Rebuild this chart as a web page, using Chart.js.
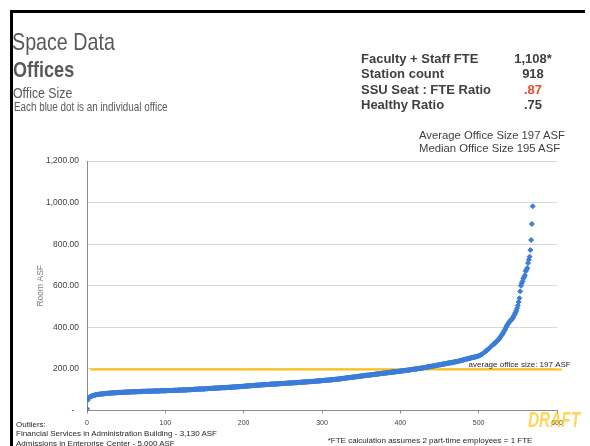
<!DOCTYPE html>
<html>
<head>
<meta charset="utf-8">
<title>Space Data – Offices</title>
<script src="https://cdn.jsdelivr.net/npm/chart.js@4.4.1/dist/chart.umd.min.js"></script>
<style>
  html, body { margin: 0; padding: 0; background: #fff; }
  .slide {
    position: relative; width: 590px; height: 446px; overflow: hidden;
    font-family: "Liberation Sans", Arial, sans-serif; color: #404040;
  }
  .slide canvas { position: absolute; left: 0; top: 0; }
  .frame-top { position: absolute; left: 10px; top: 10px; width: 575px; height: 3px; background: #000; }
  .frame-left { position: absolute; left: 10px; top: 10px; width: 3px; height: 440px; background: #000; }
  .txt { position: absolute; white-space: nowrap; line-height: 1; }
  /* condensed heading face: regular sans squeezed horizontally */
  .narrow { color: #595959; transform: scaleX(0.82); transform-origin: 0 0; }
  .stat { font-weight: bold; font-size: 13px; }
  .stat-val { width: 60px; text-align: center; }
  .note { font-size: 8px; color: #262626; }
  .draft {
    font-size: 22px; font-weight: bold; font-style: italic;
    color: rgba(255, 192, 0, 0.65);
    transform: scaleX(0.7); transform-origin: 0 0;
  }
</style>
</head>
<body>
<div class="slide">
  <canvas id="officeChart" width="590" height="446"></canvas>

  <div class="frame-top"></div>
  <div class="frame-left"></div>

  <div class="txt narrow" style="left:12px; top:30.4px; font-size:24px;">Space Data</div>
  <div class="txt narrow" style="left:13px; top:59.4px; font-size:22px; font-weight:bold;">Offices</div>
  <div class="txt narrow" style="left:13px; top:85.3px; font-size:15px;">Office Size</div>
  <div class="txt narrow" style="left:13.5px; top:101.3px; font-size:12px;">Each blue dot is an individual office</div>

  <div class="txt stat" style="left:361px; top:51.6px;">Faculty + Staff FTE</div>
  <div class="txt stat" style="left:361px; top:66.6px;">Station count</div>
  <div class="txt stat" style="left:361px; top:83px;">SSU Seat : FTE Ratio</div>
  <div class="txt stat" style="left:361px; top:98.3px;">Healthy Ratio</div>
  <div class="txt stat stat-val" style="left:503px; top:51.6px;">1,108*</div>
  <div class="txt stat stat-val" style="left:503px; top:66.6px;">918</div>
  <div class="txt stat stat-val" style="left:503px; top:83px; color:#ee4b2b;">.87</div>
  <div class="txt stat stat-val" style="left:503px; top:98.3px;">.75</div>

  <div class="txt" style="left:419px; top:130.4px; font-size:11.3px;">Average Office Size 197 ASF</div>
  <div class="txt" style="left:419px; top:143.1px; font-size:11.3px;">Median Office Size 195 ASF</div>

  <div class="txt note" style="left:16px; top:421.2px;">Outliers:</div>
  <div class="txt note" style="left:16px; top:430.2px;">Financial Services in Administration Building - 3,130 ASF</div>
  <div class="txt note" style="left:16px; top:439.5px;">Admissions in Enterprise Center - 5,000 ASF</div>
  <div class="txt note" style="left:327.7px; top:436.5px;">*FTE calculation assumes 2 part-time employees = 1 FTE</div>

  <div class="txt draft" style="left:528px; top:409.4px;">DRAFT</div>
</div>

<script>
// Room ASF for every office, sorted smallest to largest (x = rank)
const officeSizes = [
  8, 50, 60, 63, 66, 68, 69, 70, 72, 73,
  74, 75, 76, 77, 77, 78, 78, 79, 79, 80,
  80, 80, 81, 81, 82, 82, 82, 83, 83, 83,
  84, 84, 84, 85, 85, 85, 85, 86, 86, 86,
  86, 87, 87, 87, 87, 87, 88, 88, 88, 88,
  88, 89, 89, 89, 89, 89, 89, 90, 90, 90,
  90, 90, 90, 90, 91, 91, 91, 91, 91, 91,
  92, 92, 92, 92, 92, 92, 92, 93, 93, 93,
  93, 93, 93, 93, 93, 94, 94, 94, 94, 94,
  94, 94, 94, 94, 95, 95, 95, 95, 95, 95,
  95, 95, 96, 96, 96, 96, 96, 96, 96, 96,
  97, 97, 97, 97, 97, 97, 97, 98, 98, 98,
  98, 98, 98, 99, 99, 99, 99, 99, 100, 100,
  100, 100, 100, 101, 101, 101, 101, 102, 102, 102,
  102, 102, 103, 103, 103, 103, 104, 104, 104, 104,
  104, 105, 105, 105, 105, 106, 106, 106, 106, 106,
  107, 107, 107, 107, 108, 108, 108, 108, 108, 109,
  109, 109, 109, 110, 110, 110, 110, 110, 111, 111,
  111, 111, 112, 112, 112, 112, 113, 113, 113, 113,
  114, 114, 114, 114, 115, 115, 115, 115, 116, 116,
  116, 117, 117, 117, 118, 118, 118, 119, 119, 119,
  120, 120, 120, 120, 121, 121, 121, 122, 122, 122,
  122, 123, 123, 123, 124, 124, 124, 124, 125, 125,
  125, 125, 126, 126, 126, 126, 127, 127, 127, 127,
  128, 128, 128, 128, 129, 129, 129, 129, 130, 130,
  130, 130, 130, 131, 131, 131, 131, 132, 132, 132,
  132, 133, 133, 133, 133, 134, 134, 134, 134, 135,
  135, 135, 135, 136, 136, 136, 137, 137, 137, 137,
  138, 138, 138, 138, 139, 139, 139, 140, 140, 140,
  140, 141, 141, 141, 142, 142, 142, 143, 143, 143,
  144, 144, 144, 145, 145, 145, 146, 146, 146, 147,
  147, 147, 148, 148, 148, 149, 149, 150, 150, 150,
  151, 151, 152, 152, 153, 153, 154, 154, 155, 155,
  156, 156, 157, 157, 158, 158, 159, 159, 160, 160,
  161, 161, 162, 162, 163, 163, 164, 164, 165, 165,
  166, 166, 167, 167, 168, 168, 169, 169, 170, 170,
  170, 171, 171, 172, 172, 173, 173, 174, 174, 175,
  175, 176, 176, 177, 177, 178, 178, 179, 179, 180,
  180, 180, 181, 181, 182, 182, 183, 183, 184, 184,
  185, 185, 185, 186, 186, 187, 187, 188, 188, 189,
  189, 190, 190, 191, 191, 192, 192, 193, 193, 194,
  194, 195, 195, 196, 197, 197, 198, 198, 199, 199,
  200, 200, 201, 202, 202, 203, 203, 204, 205, 205,
  206, 207, 207, 208, 209, 209, 210, 211, 211, 212,
  213, 213, 214, 215, 215, 216, 217, 218, 218, 219,
  220, 220, 221, 222, 223, 223, 224, 225, 225, 226,
  227, 228, 228, 229, 230, 230, 231, 232, 232, 233,
  234, 235, 235, 236, 237, 238, 239, 240, 241, 242,
  243, 244, 245, 246, 247, 248, 249, 250, 251, 252,
  253, 254, 255, 256, 256, 257, 258, 259, 260, 261,
  262, 264, 266, 268, 270, 273, 276, 279, 282, 285,
  288, 291, 294, 298, 301, 305, 309, 312, 315, 318,
  322, 325, 328, 332, 336, 340, 344, 349, 354, 360,
  366, 372, 378, 385, 392, 400, 407, 414, 420, 425,
  430, 434, 437, 443, 449, 455, 463, 471, 480, 492,
  505, 522, 540, 573, 600, 612, 621, 635, 642, 650,
  670, 677, 685, 709, 725, 740, 772, 820, 897, 982
];

// average office size reference line
const averageSize = 197;
const averageSpan = [4, 606];
const averageLabel = 'average office size: 197 ASF';

const BLUE = '#3b7dd8';
const GOLD = '#ffc000';
const AXIS = '#8c8c8c';
const FONT = '"Liberation Sans", Arial, sans-serif';

const formatAsf = value => value === 0
  ? '-  '
  : value.toLocaleString('en-US', { minimumFractionDigits: 2, maximumFractionDigits: 2 });

// writes the caption just above the right end of the average line
const averageCaption = {
  id: 'averageCaption',
  afterDatasetsDraw(chart) {
    const { ctx, scales: { x, y } } = chart;
    const px = x.getPixelForValue(averageSpan[1]) + 9;
    const py = y.getPixelForValue(averageSize) - 3;
    ctx.save();
    ctx.font = '8px ' + FONT;
    ctx.fillStyle = '#262626';
    ctx.textAlign = 'right';
    ctx.textBaseline = 'alphabetic';
    ctx.fillText(averageLabel, px, py);
    ctx.restore();
  }
};

const ctx = document.getElementById('officeChart').getContext('2d');

new Chart(ctx, {
  type: 'scatter',
  data: {
    datasets: [
      {
        label: 'Room ASF',
        data: officeSizes.map((size, rank) => ({ x: rank, y: size })),
        pointStyle: 'rectRot',
        pointRadius: 2.5,
        borderWidth: 1,
        backgroundColor: BLUE,
        borderColor: BLUE
      },
      {
        label: 'Average office size',
        data: averageSpan.map(x => ({ x, y: averageSize })),
        showLine: true,
        borderColor: GOLD,
        borderWidth: 2,
        pointRadius: 0,
        clip: false
      }
    ]
  },
  options: {
    responsive: false,
    animation: false,
    layout: { padding: { left: 0, top: 161, right: 33, bottom: 0 } },
    plugins: {
      legend: { display: false },
      tooltip: { enabled: false }
    },
    scales: {
      x: {
        type: 'linear',
        min: 0,
        max: 600,
        ticks: {
          stepSize: 100,
          padding: 5,
          color: '#404040',
          font: { family: FONT, size: 7 }
        },
        grid: { drawOnChartArea: false, tickLength: 3, tickColor: AXIS },
        border: { color: AXIS },
        afterFit: scale => { scale.height = 35.5; }
      },
      y: {
        min: 0,
        max: 1200,
        ticks: {
          stepSize: 200,
          padding: 8,
          color: '#404040',
          font: { family: FONT, size: 8.5 },
          callback: formatAsf
        },
        grid: { color: '#d9d9d9', drawTicks: false },
        border: { color: AXIS },
        title: {
          display: true,
          text: 'Room ASF',
          color: '#808080',
          padding: { top: 36, bottom: 0 },
          font: { family: FONT, size: 8.5 }
        },
        afterFit: scale => { scale.width = 87; }
      }
    }
  },
  plugins: [averageCaption]
});
</script>
</body>
</html>
